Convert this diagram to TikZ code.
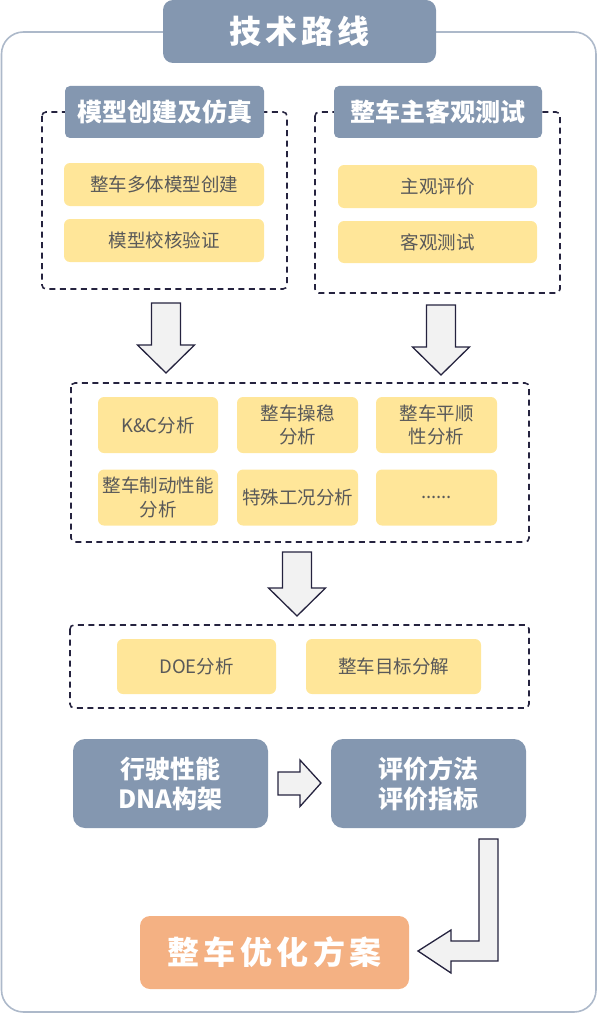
\documentclass[tikz,border=0pt]{standalone}
\usepackage{fontspec}
\newfontfamily\cjk{Noto Sans CJK SC}
\usetikzlibrary{calc}

\definecolor{hblue}{HTML}{8497B0}
\definecolor{ylw}{HTML}{FFE699}
\definecolor{orng}{HTML}{F4B183}
\definecolor{framec}{HTML}{ADB9CA}
\definecolor{dashc}{HTML}{25233F}
\definecolor{arrf}{HTML}{F2F2F2}
\definecolor{txtg}{HTML}{595959}

\begin{document}
\begin{tikzpicture}[x=1pt, y=-1pt,
  ybox/.style={fill=ylw, rounded corners=6pt, text=txtg, inner sep=0pt, align=center,
    font=\cjk\fontsize{18.5}{23.5}\selectfont},
  hbox/.style={fill=hblue, rounded corners=5pt, text=white, inner sep=0pt, align=center,
    font=\cjk\bfseries\fontsize{25}{30}\selectfont},
  grp/.style={draw=dashc, line width=1.6pt, dash pattern=on 6pt off 4.5pt, rounded corners=4pt},
  barrow/.style={draw=dashc, fill=arrf, line width=1.3pt, line join=miter}]
  \useasboundingbox (0,0) rectangle (598,1014);

  % outer frame and title
  \draw[framec, line width=1.6pt, rounded corners=22pt] (1.5,32) rectangle (596,1012);
  \node[hbox, rounded corners=10pt, minimum width=273pt, minimum height=63pt,
    font=\cjk\bfseries\fontsize{32}{36}\selectfont] (title) at (299.5,31.5)
    {技\kern4pt 术\kern4pt 路\kern4pt 线};

  % two source groups
  \draw[grp] (42,112) rectangle (287,289);
  \draw[grp] (315,112) rectangle (560,293);
  \node[hbox, minimum width=199pt, minimum height=52pt] (model) at (164.5,112) {模型创建及仿真};
  \node[hbox, minimum width=208pt, minimum height=52pt] (test) at (438,112) {整车主客观测试};
  \node[ybox, minimum width=200pt, minimum height=43pt] (m1) at (164,184.5) {整车多体模型创建};
  \node[ybox, minimum width=200pt, minimum height=43pt] (m2) at (164,240.5) {模型校核验证};
  \node[ybox, minimum width=199pt, minimum height=43pt] (t1) at (437.5,186.5) {主观评价};
  \node[ybox, minimum width=199pt, minimum height=42pt] (t2) at (437.5,242) {客观测试};

  % down arrows
  \foreach \x/\y/\s in {166/373/42, 441/375/42, 297/616/36}
    \draw[barrow] (\x,\y) -- ++(28.5,-28) -- ++(-14,0) -- ++(0,-\s) -- ++(-29,0)
      -- ++(0,\s) -- ++(-14,0) -- cycle;

  % analysis group
  \draw[grp] (71,383) rectangle (529,542);
  \node[ybox, minimum width=120pt, minimum height=56pt] (kc) at (158,425) {K\&C分析};
  \node[ybox, minimum width=121pt, minimum height=56pt] (hd) at (297.5,425) {整车操稳\\分析};
  \node[ybox, minimum width=121pt, minimum height=56pt] (rd) at (436.5,425) {整车平顺\\性分析};
  \node[ybox, minimum width=120pt, minimum height=56pt] (br) at (158,497.5) {整车制动性能\\分析};
  \node[ybox, minimum width=121pt, minimum height=56pt] (sp) at (297.5,497.5) {特殊工况分析};
  \node[ybox, minimum width=121pt, minimum height=56pt] (etc) at (436.5,497.5) {......};

  % DOE group
  \draw[grp] (70,625) rectangle (529,708);
  \node[ybox, minimum width=159pt, minimum height=55pt] (doe) at (196.5,666.5) {DOE分析};
  \node[ybox, minimum width=175pt, minimum height=55pt] (tgt) at (393.5,666.5) {整车目标分解};

  % DNA and evaluation
  \node[hbox, rounded corners=12pt, minimum width=195pt, minimum height=89pt] (dna) at (170.5,783.5)
    {行驶性能\\DNA构架};
  \node[hbox, rounded corners=12pt, minimum width=195pt, minimum height=89pt] (eval) at (428.5,783.5)
    {评价方法\\评价指标};
  \coordinate (rtip) at (321,783);
  \draw[barrow] (rtip) -- ++(-21,23.5) -- ++(0,-11.5) -- ++(-22,0) -- ++(0,-23) -- ++(22,0)
    -- ++(0,-12) -- cycle;

  % final plan
  \node[hbox, fill=orng, rounded corners=10pt, minimum width=269pt, minimum height=73pt,
    font=\cjk\bfseries\fontsize{32}{36}\selectfont] (plan) at (274.5,952.5)
    {整\kern4.5pt 车\kern4.5pt 优\kern4.5pt 化\kern4.5pt 方\kern4.5pt 案};
  \coordinate (ltip) at (418,951);
  \draw[barrow] (ltip) -- ++(33,-21) -- ++(0,11) -- ++(28,0) -- ++(0,-102) -- ++(19,0)
    -- ++(0,122) -- ++(-47,0) -- ++(0,12) -- cycle;
\end{tikzpicture}
\end{document}
